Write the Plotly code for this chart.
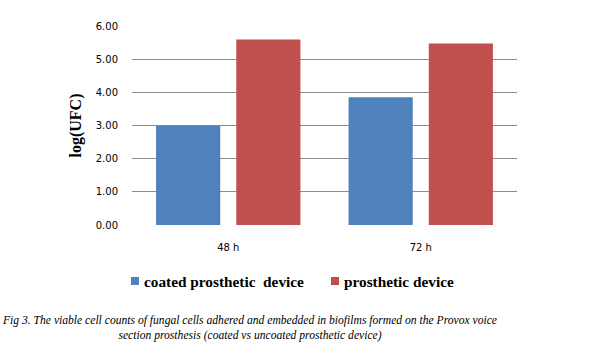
import plotly.graph_objects as go

categories = ["48 h", "72 h"]
series_names = ["coated prosthetic  device", "prosthetic device"]
coated = [3.00, 3.85]
uncoated = [5.59, 5.47]
y_ticks = [0, 1, 2, 3, 4, 5, 6]
y_tick_labels = ["0.00", "1.00", "2.00", "3.00", "4.00", "5.00", "6.00"]
colors = ["#4F81BD", "#C0504D"]
caption = ("Fig 3. The viable cell counts of fungal cells adhered and embedded in biofilms formed on the Provox voice<br>"
           "section prosthesis (coated vs uncoated prosthetic device)")

W, H = 609, 351
ml, mr, mt, mb = 132, 92, 26, 126

fig = go.Figure()
for name, vals, c in zip(series_names, [coated, uncoated], colors):
    fig.add_trace(go.Bar(x=categories, y=vals, name=name, marker_color=c,
                         marker_line_width=0, showlegend=False))

fig.update_layout(
    width=W, height=H,
    margin=dict(l=ml, r=mr, t=mt, b=mb, pad=0),
    paper_bgcolor="white", plot_bgcolor="white",
    barmode="group", bargap=0.1667, bargroupgap=0.2,
    font=dict(family="DejaVu Sans", size=10, color="#000000"),
    xaxis=dict(showgrid=False, showline=False, ticks="", tickfont=dict(size=10),
               ticklabelstandoff=15),
    yaxis=dict(range=[0, 6], tickvals=y_ticks, ticktext=y_tick_labels,
               showgrid=True, gridcolor="#8c8c8c", gridwidth=1, zeroline=False,
               showline=False, ticks="", ticklabelstandoff=13,
               title=dict(text="<b>log(UFC)</b>", standoff=10,
                          font=dict(family="Liberation Serif", size=16))),
)

# legend drawn as annotations + squares below the plot
legend_y = 281
sq_x = [131, 331]
for i, (name, c) in enumerate(zip(series_names, colors)):
    fig.add_shape(type="rect", xref="paper", yref="paper",
                  x0=(sq_x[i] - ml) / (W - ml - mr), x1=(sq_x[i] + 8 - ml) / (W - ml - mr),
                  y0=(H - mb - (legend_y + 4)) / (H - mt - mb), y1=(H - mb - (legend_y - 4)) / (H - mt - mb),
                  fillcolor=c, line_width=0)
    fig.add_annotation(xref="paper", yref="paper",
                       x=(sq_x[i] + 11 - ml) / (W - ml - mr),
                       y=(H - mb - legend_y) / (H - mt - mb),
                       xanchor="left", yanchor="middle", showarrow=False,
                       text="<b>" + name + "</b>",
                       font=dict(family="Liberation Serif", size=15.3, color="black"))

fig.add_annotation(xref="paper", yref="paper",
                   x=(249 - ml) / (W - ml - mr), y=(H - mb - 328) / (H - mt - mb),
                   xanchor="center", yanchor="middle", showarrow=False, align="center",
                   text="<i>" + caption + "</i>",
                   font=dict(family="Liberation Serif", size=11.6, color="black"))

fig.write_html("out.html")
